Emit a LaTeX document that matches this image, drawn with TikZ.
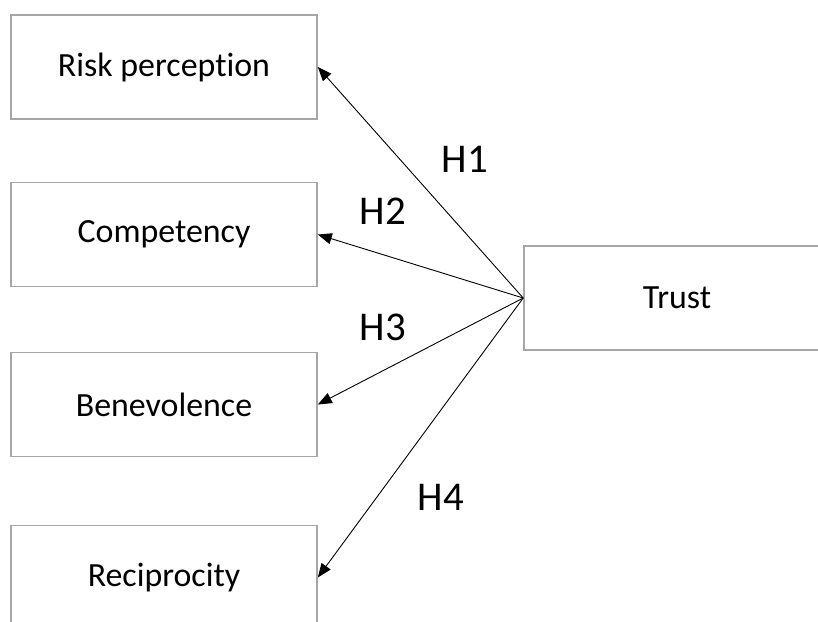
\documentclass[tikz,border=0pt]{standalone}
\usepackage{fontspec}
\setmainfont[Ligatures=NoCommon]{Carlito}
\usetikzlibrary{arrows.meta}
\definecolor{boxgray}{HTML}{A6A6A6}
\tikzset{
  box/.style={draw=boxgray, line width=1.6bp, minimum width=306bp, minimum height=104bp, inner sep=0pt, font=\fontsize{34}{40}\selectfont},
  boxtext/.style={yshift=-2bp},
  link/.style={draw=black, line width=0.9bp, -{Triangle[length=14bp,width=11bp]}},
  hlab/.style={font=\fontsize{41}{46}\selectfont, inner sep=0pt}
}
\begin{document}
\begin{tikzpicture}[x=1bp,y=-1bp]
\useasboundingbox (0,0) rectangle (818,622);
\clip (0,0) rectangle (818,622);
\fill[white] (0,0) rectangle (818,622);
\node[box] (risk) at (164,67) {\raisebox{-2bp}{Risk perception}};
\node[box] (comp) at (164,234.5) {\raisebox{-3bp}{Competency}};
\node[box] (bene) at (164,404.5) {\raisebox{-2bp}{Benevolence}};
\node[box] (reci) at (164,577.5) {\raisebox{-2bp}{Reciprocity}};
\node[box] (trust) at (677,298) {\raisebox{-2bp}{Trust}};
\draw[link] (trust.west) -- (risk.east);
\draw[link] (trust.west) -- (comp.east);
\draw[link] (trust.west) -- (bene.east);
\draw[link] (trust.west) -- (reci.east);
\node[hlab] (h1) at (465,159) {H1};
\node[hlab] (h2) at (383,211) {H2};
\node[hlab] (h3) at (383,327) {H3};
\node[hlab] (h4) at (441,497) {H4};
\end{tikzpicture}
\end{document}
